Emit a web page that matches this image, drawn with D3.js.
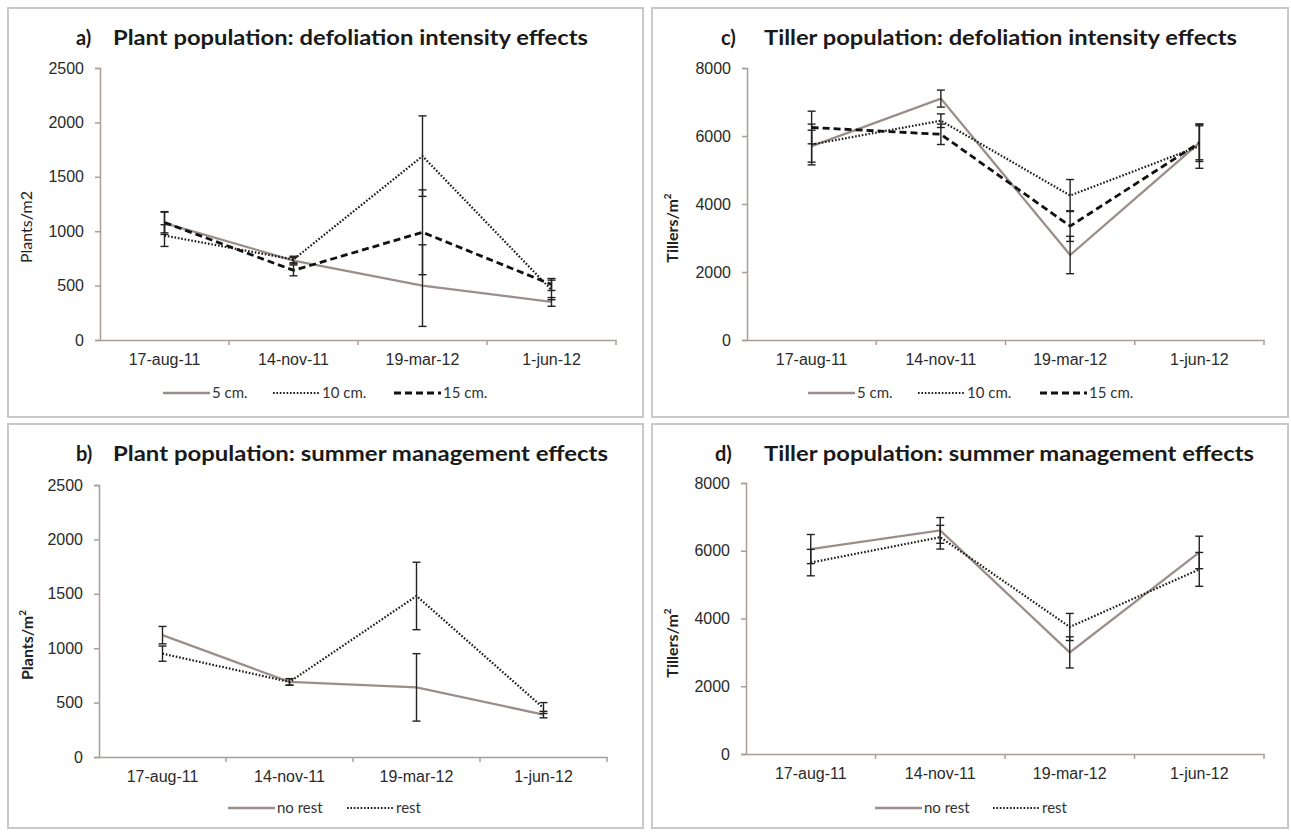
<!DOCTYPE html>
<html>
<head>
<meta charset="utf-8">
<script src="https://cdn.jsdelivr.net/npm/d3@7"></script>
<style>
  body { margin: 0; background: #fff; }
  svg { display: block; font-family: Lato, "Open Sans", sans-serif; }
</style>
</head>
<body>
<svg id="fig" width="1291" height="832"></svg>
<script>
// category and tick labels
var dates = ["17-aug-11", "14-nov-11", "19-mar-12", "1-jun-12"];
var plantTicks = [0, 500, 1000, 1500, 2000, 2500];
var tillerTicks = [0, 2000, 4000, 6000, 8000];

// a) plants, defoliation intensity
var plantDef5 = [1075, 730, 500, 350],   plantDef5Err = [105, 30, 375, 40];
var plantDef10 = [960, 740, 1690, 460],  plantDef10Err = [100, 30, 370, 90];
var plantDef15 = [1080, 640, 990, 510],  plantDef15Err = [95, 50, 390, 55];

// c) tillers, defoliation intensity
var tillerDef5 = [5700, 7100, 2500, 5800],  tillerDef5Err = [470, 250, 550, 550];
var tillerDef10 = [5750, 6450, 4250, 5700], tillerDef10Err = [600, 200, 470, 650];
var tillerDef15 = [6250, 6050, 3350, 5800], tillerDef15Err = [480, 300, 450, 500];

// b) plants, summer management
var plantNoRest = [1120, 690, 640, 390], plantNoRestErr = [80, 30, 310, 30];
var plantRest = [950, 690, 1480, 450],   plantRestErr = [70, 30, 310, 50];

// d) tillers, summer management
var tillerNoRest = [6050, 6600, 3000, 5950], tillerNoRestErr = [430, 380, 460, 480];
var tillerRest = [5650, 6400, 3750, 5450],   tillerRestErr = [390, 350, 400, 500];

var styles = {
    solid:  {stroke: "#9b8e8a", width: 2.3, dash: null},
    dotted: {stroke: "#1a1a1a", width: 2.2, dash: "1.6,1.8"},
    dashed: {stroke: "#111", width: 2.8, dash: "7,4"}
};
var axisColor = "#a99e9a";

var svg = d3.select("#fig");

function drawPanel(p) {
    var g = svg.append("g");
    // frame
    g.append("rect")
        .attr("x", p.frame[0]).attr("y", p.frame[1])
        .attr("width", p.frame[2]).attr("height", p.frame[3])
        .attr("fill", "#fff").attr("stroke", "#c9c9c9").attr("stroke-width", 2);

    // title
    g.append("text").attr("x", p.titleX[0]).attr("y", p.titleY)
        .attr("font-size", 20).attr("font-weight", "bold").attr("fill", "#1a1a1a")
        .text(p.letter);
    g.append("text").attr("x", p.titleX[1]).attr("y", p.titleY)
        .attr("font-size", 20).attr("font-weight", "bold").attr("fill", "#1a1a1a")
        .attr("textLength", p.titleX[2] - p.titleX[1]).attr("lengthAdjust", "spacingAndGlyphs")
        .text(p.title);

    var x = d3.scaleBand().domain(dates).range([p.x0, p.x1]);
    var y = d3.scaleLinear().domain([0, p.ticks[p.ticks.length - 1]]).range([p.y0, p.y1]);

    // y axis
    var ya = g.append("g").attr("transform", "translate(" + p.x0 + ",0)")
        .call(d3.axisLeft(y).tickValues(p.ticks).tickSize(5).tickPadding(11).tickFormat(d3.format("d")));
    ya.selectAll("path, line").attr("stroke", axisColor).attr("stroke-width", 1.5);
    ya.selectAll("text").attr("font-size", 16).attr("fill", "#2a2a2a");

    // x axis: labels centred in bands, ticks on band boundaries
    var xa = g.append("g").attr("transform", "translate(0," + p.y0 + ")")
        .call(d3.axisBottom(x).tickSize(0).tickPadding(p.labelPad));
    xa.select("path").attr("stroke", axisColor).attr("stroke-width", 1.5);
    xa.selectAll("text").attr("font-size", 16).attr("fill", "#2a2a2a");
    g.selectAll(".bt").data(dates).enter().append("line")
        .attr("x1", function (d) { return x(d) + x.bandwidth(); })
        .attr("x2", function (d) { return x(d) + x.bandwidth(); })
        .attr("y1", p.y0).attr("y2", p.y0 + 5)
        .attr("stroke", axisColor).attr("stroke-width", 1.5);

    // y axis title
    var yt = g.append("text")
        .attr("transform", "translate(" + p.yTitle[0] + "," + p.yTitle[1] + ") rotate(-90)")
        .attr("text-anchor", "middle").attr("font-size", 16).attr("fill", "#222")
        .attr("font-weight", p.yBold ? "bold" : "normal");
    yt.append("tspan").text(p.yLabel);
    if (p.ySup) {
        yt.append("tspan").attr("font-size", 10).attr("dy", -7).text("2");
    }

    var cx = function (i) { return x(dates[i]) + x.bandwidth() / 2; };

    // lines
    p.series.forEach(function (s) {
        var st = styles[s.style];
        g.append("path")
            .datum(s.values)
            .attr("fill", "none")
            .attr("stroke", st.stroke)
            .attr("stroke-width", st.width)
            .attr("stroke-dasharray", st.dash)
            .attr("d", d3.line().x(function (d, i) { return cx(i); }).y(function (d) { return y(d); }));
    });

    // error bars
    p.series.forEach(function (s) {
        s.values.forEach(function (v, i) {
            var e = s.err[i], xc = cx(i);
            g.append("line").attr("x1", xc).attr("x2", xc)
                .attr("y1", y(v - e)).attr("y2", y(v + e))
                .attr("stroke", "#222").attr("stroke-width", 1.4);
            [v - e, v + e].forEach(function (c) {
                g.append("line").attr("x1", xc - 4).attr("x2", xc + 4)
                    .attr("y1", y(c)).attr("y2", y(c))
                    .attr("stroke", "#222").attr("stroke-width", 1.4);
            });
        });
    });

    // legend
    p.series.forEach(function (s, i) {
        var st = styles[s.style], lx = p.legend[i];
        g.append("line").attr("x1", lx).attr("x2", lx + 47)
            .attr("y1", p.legendY).attr("y2", p.legendY)
            .attr("stroke", st.stroke).attr("stroke-width", st.width)
            .attr("stroke-dasharray", st.dash);
        g.append("text").attr("x", lx + 49).attr("y", p.legendY + 5)
            .attr("font-size", 15).attr("fill", "#333").text(s.name);
    });
}

drawPanel({
    frame: [8, 8, 635, 409], letter: "a)", title: "Plant population: defoliation intensity effects",
    titleX: [76, 113, 588], titleY: 45,
    x0: 100, x1: 616, y0: 340, y1: 68, ticks: plantTicks, labelPad: 14,
    yLabel: "Plants/m2", yBold: false, ySup: false, yTitle: [32, 227],
    legend: [163, 273, 394], legendY: 393,
    series: [
        {name: "5 cm.", style: "solid", values: plantDef5, err: plantDef5Err},
        {name: "10 cm.", style: "dotted", values: plantDef10, err: plantDef10Err},
        {name: "15 cm.", style: "dashed", values: plantDef15, err: plantDef15Err}
    ]
});

drawPanel({
    frame: [652, 8, 636, 409], letter: "c)", title: "Tiller population: defoliation intensity effects",
    titleX: [721, 764, 1237], titleY: 45,
    x0: 747, x1: 1264, y0: 340, y1: 68, ticks: tillerTicks, labelPad: 14,
    yLabel: "Tillers/m", yBold: true, ySup: true, yTitle: [678, 228],
    legend: [808, 918, 1040], legendY: 393,
    series: [
        {name: "5 cm.", style: "solid", values: tillerDef5, err: tillerDef5Err},
        {name: "10 cm.", style: "dotted", values: tillerDef10, err: tillerDef10Err},
        {name: "15 cm.", style: "dashed", values: tillerDef15, err: tillerDef15Err}
    ]
});

drawPanel({
    frame: [8, 424, 635, 404], letter: "b)", title: "Plant population: summer management effects",
    titleX: [76, 113, 608], titleY: 461,
    x0: 99, x1: 607, y0: 757, y1: 485, ticks: plantTicks, labelPad: 14,
    yLabel: "Plants/m", yBold: true, ySup: true, yTitle: [33, 645],
    legend: [228, 347], legendY: 808,
    series: [
        {name: "no rest", style: "solid", values: plantNoRest, err: plantNoRestErr},
        {name: "rest", style: "dotted", values: plantRest, err: plantRestErr}
    ]
});

drawPanel({
    frame: [652, 424, 636, 404], letter: "d)", title: "Tiller population: summer management effects",
    titleX: [715, 764, 1254], titleY: 461,
    x0: 746, x1: 1264, y0: 754, y1: 483, ticks: tillerTicks, labelPad: 14,
    yLabel: "Tillers/m", yBold: true, ySup: true, yTitle: [678, 643],
    legend: [875, 993], legendY: 808,
    series: [
        {name: "no rest", style: "solid", values: tillerNoRest, err: tillerNoRestErr},
        {name: "rest", style: "dotted", values: tillerRest, err: tillerRestErr}
    ]
});
</script>
</body>
</html>
